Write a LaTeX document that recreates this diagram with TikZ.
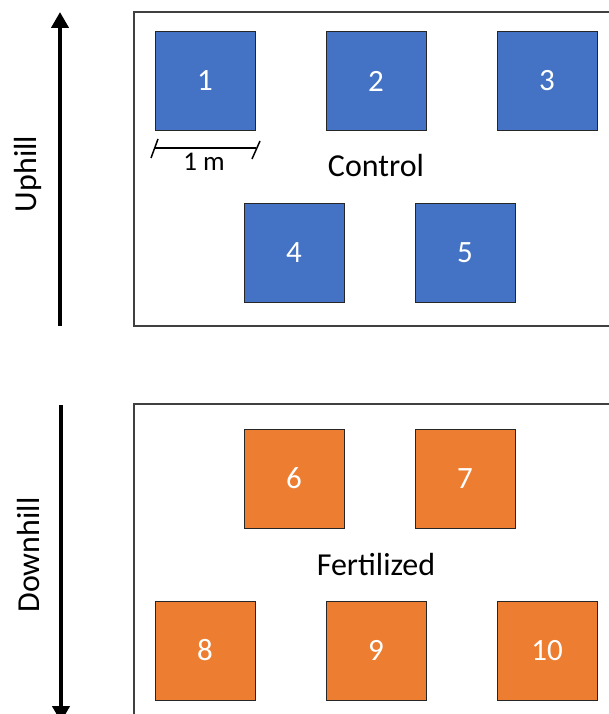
\documentclass[tikz,border=0pt]{standalone}
\usepackage{fontspec}
\setmainfont{Carlito}
\usetikzlibrary{arrows.meta}
\definecolor{plotblue}{HTML}{4472C4}
\definecolor{plotorange}{HTML}{ED7D31}
\definecolor{framegray}{HTML}{404040}
\begin{document}
\begin{tikzpicture}[x=1pt,y=-1pt,
  plot/.style={draw=black!85,line width=1pt,minimum width=100pt,minimum height=99pt,
    inner sep=0pt,text=white,font=\fontsize{31}{33}\selectfont},
  ctrl/.style={plot,fill=plotblue},
  fert/.style={plot,fill=plotorange},
  frame/.style={draw=framegray,line width=1.2pt},
  slope/.style={line width=4.5pt,-{Triangle[length=16pt,width=17pt]}},
  lbl/.style={font=\fontsize{32}{34}\selectfont}]
\useasboundingbox (0,0) rectangle (609,714);
% field blocks
\draw[frame] (620,12) -- (134,12) -- (134,326) -- (620,326);
\draw[frame] (620,404) -- (134,404) -- (134,720);
% slope arrows
\coordinate (uplo) at (60,326);
\coordinate (uphi) at (60,12);
\draw[slope] (uplo) -- (uphi);
\coordinate (dnhi) at (61,405);
\coordinate (dnlo) at (61,722);
\draw[slope] (dnhi) -- (dnlo);
\node[lbl,rotate=90] (uphill) at (28,174) {Uphill};
\node[lbl,rotate=90] (downhill) at (28,555) {Downhill};
% control plots
\node[ctrl] (p1) at (205,81) {1};
\node[ctrl] (p2) at (376,81) {2};
\node[ctrl] (p3) at (547,81) {3};
\node[ctrl] (p4) at (294,252.5) {4};
\node[ctrl] (p5) at (465,252.5) {5};
\node[lbl] (control) at (376,166) {Control};
% fertilized plots
\node[fert] (p6) at (294,478.5) {6};
\node[fert] (p7) at (465,478.5) {7};
\node[fert] (p8) at (205,650.5) {8};
\node[fert] (p9) at (376,650.5) {9};
\node[fert] (p10) at (547,650.5) {10};
\node[lbl] (fertilized) at (376,565) {Fertilized};
% scale bar
\coordinate (sbl) at (155,148);
\coordinate (sbr) at (256,148);
\draw[line width=1.5pt] (sbl) -- (sbr);
\draw[line width=1.5pt] (151,158) -- (158,139);
\draw[line width=1.5pt] (252,159) -- (260,141);
\node[font=\fontsize{27}{29}\selectfont] (scale) at (204,162) {1 m};
\end{tikzpicture}
\end{document}
